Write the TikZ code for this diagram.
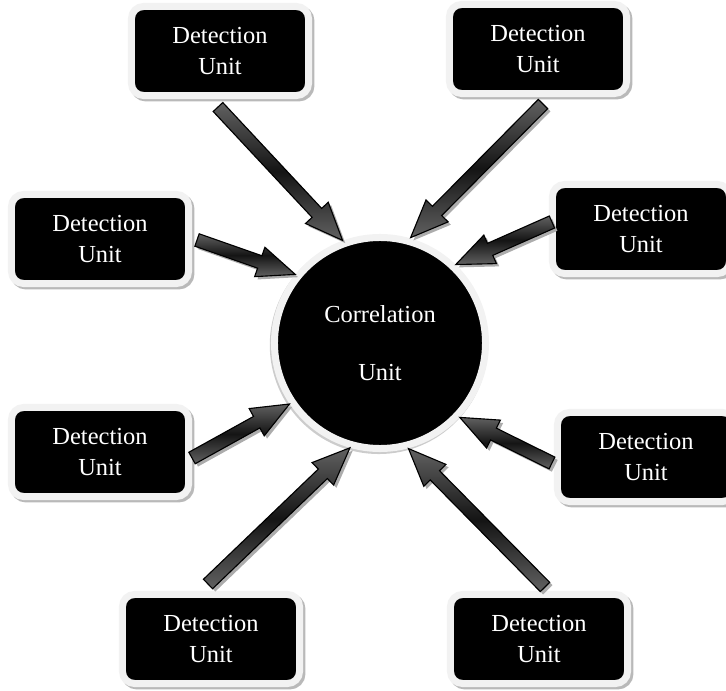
\documentclass[tikz,border=0pt]{standalone}
\usepackage{fontspec}
\setmainfont{Liberation Serif}
\usetikzlibrary{shapes.arrows,shadows,calc}
\tikzset{
  detbox/.style={rectangle,rounded corners=0.3cm,fill=black,draw=gray!10,line width=0.175cm,
    minimum width=4.425cm,minimum height=2.225cm,align=center,text=white,
    font=\fontsize{17.4}{22}\selectfont,
    drop shadow={shadow xshift=0.06cm,shadow yshift=-0.06cm,fill=gray!55,draw=gray!55,line width=0.175cm,opacity=1}},
  corrunit/.style={circle,fill=black,draw=gray!10,line width=0.175cm,minimum size=5.275cm,
    align=center,text=white,font=\fontsize{17.4}{41}\selectfont,
    drop shadow={shadow xshift=-0.03cm,shadow yshift=-0.05cm,fill=gray!40,draw=gray!40,line width=0.175cm,opacity=1}},
  blockarrow/.style={single arrow,draw=black,line width=0.8pt,inner sep=0.15cm,outer sep=0pt,
    single arrow head extend=0.225cm,single arrow tip angle=45,
    top color=black!62,bottom color=black!62,middle color=black!92,
    drop shadow={shadow xshift=0.07cm,shadow yshift=-0.07cm,fill=gray!65,opacity=1}}
}
\newcommand{\flowarrow}[2]{%
  \path let \p1=(#1),\p2=(#2),\n1={atan2(\y2-\y1,\x2-\x1)},\n2={veclen(\x2-\x1,\y2-\y1)} in
    node[blockarrow,anchor=tail,minimum height=\n2,rotate=\n1] at (\p1) {};}
\begin{document}
\begin{tikzpicture}[x=0.025cm,y=-0.025cm]
      \useasboundingbox (0,0) rectangle (726,691);
      \node[corrunit] (corr) at (380,343) {Correlation\\Unit};
      \node[detbox] (det1) at (220,51) {Detection\\Unit};
      \node[detbox] (det2) at (538,49) {Detection\\Unit};
      \node[detbox] (det3) at (100,239) {Detection\\Unit};
      \node[detbox] (det4) at (641,229) {Detection\\Unit};
      \node[detbox] (det5) at (100,452) {Detection\\Unit};
      \node[detbox] (det6) at (646,457) {Detection\\Unit};
      \node[detbox] (det7) at (211,639) {Detection\\Unit};
      \node[detbox] (det8) at (539,639) {Detection\\Unit};
      \flowarrow{[shift={(-2,8)}]det1.south}{corr.110}
      \flowarrow{[shift={(5,7)}]det2.south}{corr.74}
      \flowarrow{[shift={(5,1)}]det3.east}{corr.141}
      \flowarrow{[shift={(3,-7)}]det4.west}{corr.46}
      \flowarrow{[shift={(0,6)}]det5.east}{corr.214}
      \flowarrow{[shift={(-2,6)}]det6.west}{corr.317}
      \flowarrow{[shift={(-3,-7)}]det7.north}{corr.254}
      \flowarrow{[shift={(6,-4)}]det8.north}{corr.285}
\end{tikzpicture}
\end{document}
